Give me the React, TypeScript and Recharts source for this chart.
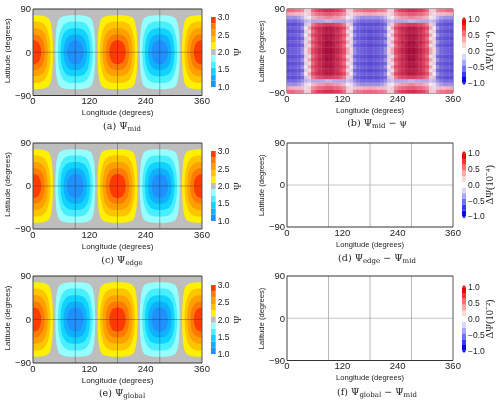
import React from 'react';
import {
  ComposedChart, Area, Scatter, XAxis, YAxis, ReferenceLine,
} from 'recharts';

const lonTicks = [0, 120, 240, 360];
const latTicks = [-90, 0, 90];
const lonMinor = [30, 60, 90, 120, 150, 180, 210, 240, 270, 300, 330];
const latMinor = [-60, -30, 0, 30, 60];

// contours: longitude offset from a blob centre -> half height in latitude
const contourOffsets = [
  [0, 5, 10, 15, 20, 25, 30, 34, 37, 38, 40, 41, 42, 42.5],
  [0, 5, 10, 15, 20, 25, 30, 32, 34, 35, 36, 37, 37.2],
  [0, 5, 10, 15, 20, 25, 27, 28, 30, 31, 31.7],
  [0, 5, 10, 15, 18, 20, 22, 24, 25, 25.1],
  [0, 5, 10, 12, 15, 17, 17.4],
];
const contourHeights = [
  [77, 77, 77, 76.5, 76, 75, 73, 70, 64, 60, 50, 41, 24, 0],
  [64, 64, 64, 63, 61, 57, 49, 43, 35, 30, 23, 9, 0],
  [50, 50, 49.5, 48, 45, 38, 34, 30, 21, 13, 0],
  [37, 37, 36, 33, 29, 26, 21, 13, 3, 0],
  [25, 24.5, 22, 20, 14, 7, 0],
];
const warmCentres = [0, 180, 360];
const coolCentres = [90, 270];
const warmColors = ['#fff000', '#ffc400', '#ffa000', '#ff7a00', '#ff3c00'];
const coolColors = ['#96ffff', '#48f0ff', '#10d4ff', '#10b0ff', '#2090ff'];
const grey = '#bebebe';

const psiTicks = [1, 1.5, 2, 2.5, 3];
const psiEdges = [1, 1.18, 1.36, 1.55, 1.73, 1.91, 2.09, 2.27, 2.45, 2.64, 2.82, 3];
const psiColors = ['#2090ff', '#10b0ff', '#10d4ff', '#48f0ff', '#96ffff', grey, '#fff000', '#ffc400', '#ffa000', '#ff7a00', '#ff3c00'];

const diffTicks = [-1, -0.5, 0, 0.5, 1];
const diffEdges = [-1, -0.82, -0.64, -0.45, -0.27, -0.09, 0.09, 0.27, 0.45, 0.64, 0.82, 1];
const diffColors = ['#0808e8', '#3838f8', '#7070f8', '#a8a8fc', '#d8d8ff', '#ffffff', '#ffd8d8', '#ffa8a8', '#ff7070', '#ff3030', '#e80808'];

// one quadrant of panel (b), the rest repeats by symmetry
const cellLons = [3.75, 11.25, 18.75, 26.25, 33.75, 41.25, 48.75, 56.25, 63.75, 71.25, 78.75, 86.25];
const cellLats = [86.25, 78.75, 71.25, 63.75, 56.25, 48.75, 41.25, 33.75, 26.25, 18.75, 11.25, 3.75];
const cellValues = [
  [0.4, 0.4, 0.35, 0.35, 0.3, 0.1, 0.1, 0.4, 0.5, 0.6, 0.65, 0.7],
  [0.2, 0.18, 0.15, 0.15, 0.12, 0.05, 0.1, 0.28, 0.35, 0.4, 0.42, 0.45],
  [-0.35, -0.35, -0.35, -0.3, -0.2, -0.05, 0, 0.15, 0.2, 0.25, 0.25, 0.3],
  [-0.5, -0.5, -0.5, -0.45, -0.35, -0.2, -0.15, -0.25, -0.25, -0.25, -0.25, -0.2],
  [-0.75, -0.75, -0.7, -0.65, -0.5, -0.15, 0.1, 0.35, 0.45, 0.5, 0.55, 0.6],
  [-0.6, -0.6, -0.55, -0.5, -0.35, 0, 0.2, 0.5, 0.65, 0.75, 0.8, 0.9],
  [-0.8, -0.75, -0.7, -0.65, -0.5, -0.1, 0.05, 0.4, 0.55, 0.7, 0.8, 0.85],
  [-0.65, -0.6, -0.55, -0.5, -0.35, 0, 0.2, 0.5, 0.65, 0.75, 0.85, 0.95],
  [-0.8, -0.75, -0.7, -0.65, -0.5, -0.1, 0.05, 0.4, 0.55, 0.7, 0.8, 0.9],
  [-0.65, -0.6, -0.55, -0.5, -0.35, 0.05, 0.2, 0.5, 0.65, 0.8, 0.85, 1],
  [-0.8, -0.75, -0.7, -0.65, -0.5, -0.1, 0.05, 0.4, 0.55, 0.7, 0.85, 0.95],
  [-0.65, -0.6, -0.55, -0.5, -0.35, 0.05, 0.2, 0.5, 0.65, 0.8, 0.9, 1],
];

const sans = '"Liberation Sans", Arial, sans-serif';
const serif = '"DejaVu Serif", serif';
const textColor = '#222';

const minus = (v: number, digits = 0) => {
  const s = Math.abs(v).toFixed(digits);
  return v < 0 ? `\u2212${s}` : s;
};

function blobRows(centre: number, offsets: number[], heights: number[]) {
  const rows: { lon: number; band: number[] }[] = [];
  for (let i = offsets.length - 1; i > 0; i--) rows.push({ lon: centre - offsets[i], band: [-heights[i], heights[i]] });
  offsets.forEach((o, i) => rows.push({ lon: centre + o, band: [-heights[i], heights[i]] }));
  return rows.filter((r) => r.lon >= 0 && r.lon <= 360);
}

const greyRows = [{ lon: 0, band: [-90, 90] }, { lon: 360, band: [-90, 90] }];

function buildCells() {
  const cells: { lon: number; lat: number; value: number }[] = [];
  cellLats.forEach((lat, r) => {
    cellLons.forEach((lon, c) => {
      const value = cellValues[r][c];
      [lon, 180 - lon, 180 + lon, 360 - lon].forEach((x) => {
        cells.push({ lon: x, lat, value });
        cells.push({ lon: x, lat: -lat, value });
      });
    });
  });
  return cells;
}
const cells = buildCells();
const stripeLats = cellLats.flatMap((lat) => [lat, -lat]);
const stripeLons = cellLons.flatMap((lon) => [lon, 180 - lon, 180 + lon, 360 - lon]);

// palette seen in panel (b): blues lean purple and reds lean crimson after the downsampling
const cellStops = [
  [-1, 70, 50, 200], [-0.5, 118, 104, 222], [0, 245, 232, 240], [0.5, 228, 72, 100], [1, 165, 14, 60],
];
function cellColor(v: number) {
  for (let i = 1; i < cellStops.length; i++) {
    if (v <= cellStops[i][0]) {
      const a = cellStops[i - 1];
      const b = cellStops[i];
      const t = (v - a[0]) / (b[0] - a[0]);
      return `rgb(${[1, 2, 3].map((k) => Math.round(a[k] + (b[k] - a[k]) * t)).join(',')})`;
    }
  }
  return 'rgb(165,14,60)';
}

function CellShape(props: any) {
  const { cx, cy, payload } = props;
  return <rect x={cx - 1.9} y={cy - 1.9} width={3.8} height={3.8} fill={cellColor(payload.value)} />;
}

type MapProps = {
  left: number; top: number; width: number; height: number;
  labelSize: number; kind: 'contour' | 'cells' | 'empty';
};

function MapPanel({ left, top, width, height, labelSize, kind }: MapProps) {
  const lineColor = kind === 'empty' ? '#b8b8b8' : 'rgba(40,40,40,0.5)';
  const areas: React.ReactNode[] = [];
  if (kind !== 'cells') {
    areas.push(<Area key="grey" data={greyRows} dataKey="band" stroke="none" fill={kind === 'empty' ? '#ffffff' : grey} fillOpacity={1} isAnimationActive={false} dot={false} activeDot={false} />);
  }
  if (kind === 'contour') {
    contourOffsets.forEach((offsets, i) => {
      warmCentres.forEach((c) => areas.push(
        <Area key={`w${i}-${c}`} data={blobRows(c, offsets, contourHeights[i])} dataKey="band" stroke="none" fill={warmColors[i]} fillOpacity={1} isAnimationActive={false} dot={false} activeDot={false} />,
      ));
      coolCentres.forEach((c) => areas.push(
        <Area key={`c${i}-${c}`} data={blobRows(c, offsets, contourHeights[i])} dataKey="band" stroke="none" fill={coolColors[i]} fillOpacity={1} isAnimationActive={false} dot={false} activeDot={false} />,
      ));
    });
  }
  return (
    <div style={{ position: 'absolute', left: left - 34, top: top - 8 }}>
      <ComposedChart width={width + 34 + 12} height={height + 8 + 32} margin={{ top: 8, right: 12, bottom: 0, left: 0 }}>
        <XAxis
          dataKey="lon" type="number" domain={[0, 360]} ticks={lonTicks} height={32}
          tick={{ fontSize: 9.5, fill: textColor, fontFamily: sans }} tickLine={false} tickSize={0} tickMargin={2}
          axisLine={{ stroke: '#333', strokeWidth: 1 }}
          label={{ value: 'Longitude (degrees)', position: 'insideBottom', offset: 12.5, fontSize: labelSize, fill: textColor, fontFamily: sans }}
        />
        <XAxis xAxisId="minor" type="number" domain={[0, 360]} ticks={lonMinor} height={0} mirror tick={false} tickSize={1.5} axisLine={false} tickLine={{ stroke: '#333', strokeWidth: 0.7 }} />
        <YAxis
          dataKey={kind === 'cells' ? 'lat' : undefined} type="number" domain={[-90, 90]} ticks={latTicks} width={34} tickFormatter={(v: number) => minus(v)}
          tick={{ fontSize: 9.5, fill: textColor, fontFamily: sans }} tickLine={false} tickSize={0} tickMargin={2}
          axisLine={{ stroke: '#444', strokeWidth: 1 }}
          label={{ value: 'Latitude (degrees)', angle: -90, position: 'insideLeft', offset: 8, dy: 31, fontSize: labelSize, fill: textColor, fontFamily: sans }}
        />
        <YAxis yAxisId="minor" type="number" domain={[-90, 90]} ticks={latMinor} width={0} mirror tick={false} tickSize={1.5} axisLine={false} tickLine={{ stroke: '#333', strokeWidth: 0.7 }} />
        {areas}
        {kind === 'cells' && <Scatter data={cells} shape={CellShape} isAnimationActive={false} />}
        {kind === 'cells' && stripeLats.map((lat) => (
          <ReferenceLine key={`s${lat}`} y={lat} stroke="rgba(255,130,170,0.2)" strokeWidth={1.5} />
        ))}
        {kind === 'cells' && stripeLons.map((lon) => (
          <ReferenceLine key={`t${lon}`} x={lon} stroke="rgba(80,30,170,0.2)" strokeWidth={1.5} />
        ))}
        {[90, 180, 270].map((lon) => (
          <ReferenceLine key={lon} x={lon} stroke={lineColor} strokeWidth={kind === 'empty' ? 1 : 0.7} />
        ))}
        <ReferenceLine y={0} stroke={lineColor} strokeWidth={kind === 'empty' ? 0.8 : 0.7} />
        <ReferenceLine y={90} stroke="#333" strokeWidth={1} />
        <ReferenceLine x={360} stroke="#555" strokeWidth={1} />
      </ComposedChart>
    </div>
  );
}

type BarProps = {
  left: number; top: number; height: number; width: number;
  edges: number[]; colors: string[]; ticks: number[]; label: string; labelShift: number; labelFont: string; triangles?: boolean;
};

function ColorBar({ left, top, height, width, edges, colors, ticks, label, labelShift, labelFont, triangles }: BarProps) {
  const lo = edges[0];
  const hi = edges[edges.length - 1];
  const tip = (hi - lo) * 0.036;
  return (
    <div style={{ position: 'absolute', left, top: top - 6 }}>
      <ComposedChart width={width + 34} height={height + 12} margin={{ top: 6, right: 0, bottom: 6, left: 0 }}>
        <XAxis dataKey="x" type="number" domain={[0, 1]} hide />
        <YAxis
          orientation="right" type="number" domain={[lo, hi]} ticks={ticks} width={34} interval={0}
          tickFormatter={(v: number) => minus(v, 1)} tick={{ fontSize: 8.5, fill: textColor, fontFamily: sans }}
          tickLine={false} tickSize={0} axisLine={false} tickMargin={2}
          label={{ value: label, angle: -90, position: 'center', dx: labelShift, fontSize: 10.5, fill: textColor, fontFamily: labelFont }}
        />
        {colors.map((c, i) => (
          <Area
            key={c + i} dataKey="band" stroke="none" fill={c} fillOpacity={1} isAnimationActive={false} dot={false} activeDot={false}
            data={[{ x: 0, band: [edges[i], edges[i + 1]] }, { x: 1, band: [edges[i], edges[i + 1]] }]}
          />
        ))}
        {triangles && (
          <Area
            dataKey="band" stroke="none" fill={colors[colors.length - 1]} fillOpacity={1} isAnimationActive={false} dot={false} activeDot={false}
            data={[{ x: 0, band: [hi, hi] }, { x: 0.5, band: [hi, hi + tip] }, { x: 1, band: [hi, hi] }]}
          />
        )}
        {triangles && (
          <Area
            dataKey="band" stroke="none" fill={colors[0]} fillOpacity={1} isAnimationActive={false} dot={false} activeDot={false}
            data={[{ x: 0, band: [lo, lo] }, { x: 0.5, band: [lo - tip, lo] }, { x: 1, band: [lo, lo] }]}
          />
        )}
      </ComposedChart>
    </div>
  );
}

function Caption({ cx, cy, name, base, tail, tailBase }: { cx: number; cy: number; name: string; base: string; tail?: string; tailBase?: string }) {
  const sub = { fontSize: 7, verticalAlign: -2 };
  return (
    <div style={{ position: 'absolute', left: cx - 100, top: cy - 8, width: 200, textAlign: 'center', fontFamily: serif, fontSize: 9.5, lineHeight: '16px', color: '#222', whiteSpace: 'nowrap' }}>
      ({name}) {'\u03A8'}<span style={sub}>{base}</span>{tail}{tailBase && <span style={sub}>{tailBase}</span>}
    </div>
  );
}

const lsFont = '"Liberation Serif", serif';

export default function App() {
  return (
    <div style={{ position: 'absolute', left: 0, top: 0, width: 500, height: 404, background: '#fff', overflow: 'hidden', filter: 'blur(0.35px)' }}>
      <MapPanel left={32.5} top={8.5} width={169} height={86.5} labelSize={8} kind="contour" />
      <MapPanel left={32.5} top={142.5} width={169} height={86} labelSize={8} kind="contour" />
      <MapPanel left={32.5} top={275.5} width={169} height={87} labelSize={8} kind="contour" />
      <MapPanel left={286.5} top={8.5} width={166} height={84} labelSize={7.6} kind="cells" />
      <MapPanel left={286.5} top={142.5} width={166} height={84} labelSize={7.6} kind="empty" />
      <MapPanel left={286.5} top={276} width={166} height={84.5} labelSize={7.6} kind="empty" />

      <ColorBar left={210.5} top={17} height={70} width={4.7} edges={psiEdges} colors={psiColors} ticks={psiTicks} label={'\u03A8'} labelShift={5} labelFont={lsFont} />
      <ColorBar left={210.5} top={151} height={70} width={4.7} edges={psiEdges} colors={psiColors} ticks={psiTicks} label={'\u03A8'} labelShift={5} labelFont={lsFont} />
      <ColorBar left={210.5} top={285} height={69} width={4.7} edges={psiEdges} colors={psiColors} ticks={psiTicks} label={'\u03A8'} labelShift={5} labelFont={lsFont} />
      <ColorBar left={462} top={17} height={68} width={4} edges={diffEdges} colors={diffColors} ticks={diffTicks} label={'\u0394\u03A8(10\u207B\u2074)'} labelShift={6} labelFont={lsFont} triangles />
      <ColorBar left={462} top={151} height={67.5} width={4} edges={diffEdges} colors={diffColors} ticks={diffTicks} label={'\u0394\u03A8(10\u207B\u2074)'} labelShift={6} labelFont={lsFont} triangles />
      <ColorBar left={462} top={284.5} height={68} width={4} edges={diffEdges} colors={diffColors} ticks={diffTicks} label={'\u0394\u03A8(10\u207B\u00B2)'} labelShift={6} labelFont={lsFont} triangles />

      <Caption cx={122} cy={125.5} name="a" base="mid" />
      <Caption cx={377} cy={123} name="b" base="mid" tail={' \u2212 \u03C8'} />
      <Caption cx={122} cy={260} name="c" base="edge" />
      <Caption cx={377} cy={258} name="d" base="edge" tail={' \u2212 \u03A8'} tailBase="mid" />
      <Caption cx={122} cy={393} name="e" base="global" />
      <Caption cx={377} cy={392} name="f" base="global" tail={' \u2212 \u03A8'} tailBase="mid" />
    </div>
  );
}
